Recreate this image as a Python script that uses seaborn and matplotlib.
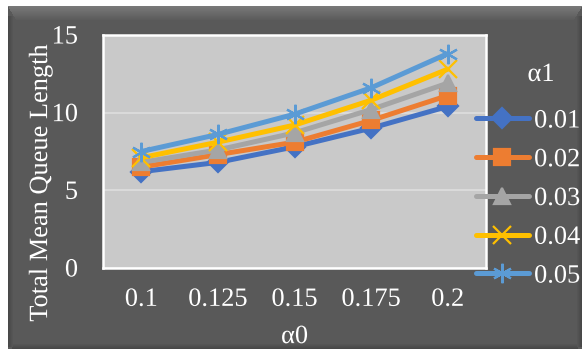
import numpy as np
import pandas as pd
import matplotlib
matplotlib.use("Agg")
import matplotlib.pyplot as plt
import matplotlib.patheffects as pe
from matplotlib.patches import Rectangle
import seaborn as sns

# alpha0 values (x categories) and the alpha1 series
alpha0 = ["0.1", "0.125", "0.15", "0.175", "0.2"]
alpha1 = ["0.01", "0.02", "0.03", "0.04", "0.05"]
q_001 = [6.2, 6.8, 7.8, 9.0, 10.4]
q_002 = [6.5, 7.3, 8.1, 9.5, 11.1]
q_003 = [6.8, 7.6, 8.7, 10.2, 11.9]
q_004 = [7.1, 8.1, 9.2, 10.8, 12.8]
q_005 = [7.5, 8.6, 9.9, 11.6, 13.8]
y_ticks = [0, 5, 10, 15]

series = [q_001, q_002, q_003, q_004, q_005]

sns.set_theme(style="white")
plt.rcParams["font.family"] = ["Liberation Serif", "DejaVu Serif"]

W, H = 588, 351
FS = 19
fig = plt.figure(figsize=(W / 100, H / 100), dpi=100, facecolor="white")

# dark beveled panel behind the chart
bg = fig.add_axes([0, 0, 1, 1], zorder=-10)
bg.set_xlim(0, W)
bg.set_ylim(H, 0)
bg.axis("off")
px0, py0, px1, py1 = 8, 6, 582, 349
bg.add_patch(Rectangle((px0, py0), px1 - px0, py1 - py0, facecolor="#595959", edgecolor="none"))
for i in range(14):
    shade = 0x78 - int((0x78 - 0x59) * i / 14)
    c = "#%02x%02x%02x" % (shade, shade, shade)
    bg.add_patch(Rectangle((px0 + i * 0.6, py0 + i), (px1 - px0) - i * 1.2, 1,
                           facecolor=c, edgecolor="none"))
for i in range(5):
    shade = 0x48 + int((0x59 - 0x48) * i / 5)
    c = "#%02x%02x%02x" % (shade, shade, shade)
    bg.add_patch(Rectangle((px0 + i, py0 + 10), 1, (py1 - py0) - 12, facecolor=c, edgecolor="none"))
    bg.add_patch(Rectangle((px1 - 1 - i, py0 + 10), 1, (py1 - py0) - 12, facecolor=c, edgecolor="none"))
    bg.add_patch(Rectangle((px0 + 4, py1 - 1 - i), (px1 - px0) - 8, 1, facecolor=c, edgecolor="none"))

ax = fig.add_axes([103 / W, 1 - 268 / H, (486 - 103) / W, (268 - 35) / H])
ax.set_facecolor("#c9c9c9")

palette = ["#4472C4", "#ED7D31", "#A5A5A5", "#FFC000", "#5B9BD5"]
markers = ["D", "s", "^", "x", (6, 2, 0)]
msizes = [10, 11, 12, 13, 14]

for name, vals, col, mk, ms in zip(alpha1, series, palette, markers, msizes):
    d = pd.DataFrame({"alpha0": alpha0, "q": vals})
    sns.lineplot(data=d, x="alpha0", y="q", color=col, marker=mk, markersize=ms,
                 markeredgewidth=1.6, markeredgecolor=col, linewidth=3.6,
                 sort=False, label=name, ax=ax)

ax.set_ylim(0, 15)
ax.set_xlim(-0.5, len(alpha0) - 0.5)
ax.set_yticks(y_ticks)
ax.grid(axis="y", color="#dadada", linewidth=1.5)
ax.set_axisbelow(True)
for s in ax.spines.values():
    s.set_color("white")
    s.set_linewidth(1.8)

shadow_txt = [pe.SimpleLineShadow(offset=(1, -1), shadow_color="#222222", alpha=0.5), pe.Normal()]

ax.tick_params(axis="both", length=0, labelsize=FS, labelcolor="white")
ax.tick_params(axis="x", pad=15)
ax.tick_params(axis="y", pad=18)
for t in ax.get_xticklabels() + ax.get_yticklabels():
    t.set_path_effects(shadow_txt)

ax.set_xlabel("α0", fontsize=FS, color="white", labelpad=11)
ax.set_ylabel("Total Mean Queue Length", fontsize=FS, color="white")
ax.yaxis.set_label_coords(-0.133, 0.365)
ax.xaxis.label.set_path_effects(shadow_txt)
ax.yaxis.label.set_path_effects(shadow_txt)

handles, labels = ax.get_legend_handles_labels()
leg = ax.legend(handles, labels, loc="upper left",
                bbox_to_anchor=(476 / W, 1 - 109 / H), bbox_transform=fig.transFigure,
                frameon=False, fontsize=FS, labelcolor="white",
                handlelength=2.0, handletextpad=0.2, labelspacing=0.58,
                borderaxespad=0, borderpad=0)
for t in leg.get_texts():
    t.set_path_effects(shadow_txt)

# legend heading
fig.text(541 / W, 1 - 75 / H, "α1", fontsize=FS, color="white", ha="center", va="center",
         path_effects=shadow_txt)

fig.savefig("out.png", dpi=100, facecolor="white")
